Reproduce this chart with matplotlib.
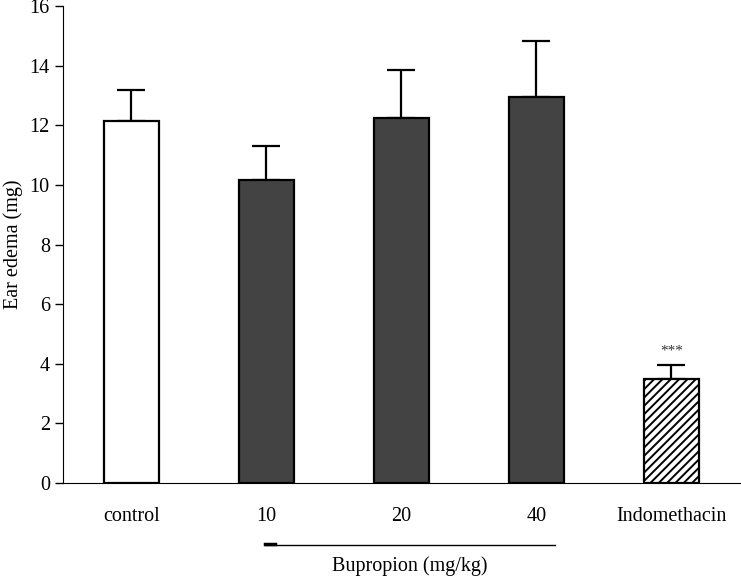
import numpy as np
import matplotlib.pyplot as plt

plt.rcParams['font.family'] = ['Liberation Serif', 'DejaVu Serif']
plt.rcParams['hatch.color'] = '#8a8a8a'
plt.rcParams['hatch.linewidth'] = 1.4

groups = ['control', '10', '20', '40', 'Indomethacin']
means = [12.15, 10.18, 12.25, 12.95, 3.48]
sem = [1.04, 1.13, 1.61, 1.88, 0.47]
colors = ['white', '#434343', '#434343', '#434343', 'white']
hatches = ['', '', '', '', '////']

fig = plt.figure(figsize=(7.41, 5.78), dpi=100)
ax = fig.add_axes([63/741, 95/578, 1 - 63/741, 477/578])

x = np.arange(len(groups))
ax.bar(x, means, width=0.41, color=colors, edgecolor='black', linewidth=1.6,
       hatch=hatches, zorder=2)
# error bars only upward
ax.errorbar(x, means, yerr=[np.zeros(len(sem)), sem], fmt='none', ecolor='black',
            elinewidth=1.6, capsize=10, capthick=1.6, zorder=1)

ax.text(x[4], means[4] + sem[4] + 0.25, '***', ha='center', va='bottom', fontsize=11,
        color='#333333')

ax.set_xlim(-0.507, 4.515)
ax.set_ylim(0, 16)
ax.set_yticks(np.arange(0, 17, 2))
ax.set_xticks(x)
ax.set_xticklabels(groups)
ax.tick_params(axis='x', length=0, pad=17, labelsize=14.5)
ax.tick_params(axis='y', direction='out', length=6, width=1, labelsize=14.5)
ax.spines['top'].set_visible(False)
ax.spines['right'].set_visible(False)
ax.set_ylabel('Ear edema (mg)', fontsize=14.5, labelpad=5)

# bracket line under the bupropion doses
fig.add_artist(plt.Line2D([265/741, 555/741], [1 - 545/578, 1 - 545/578],
                          color='black', linewidth=1))
fig.add_artist(plt.Line2D([265/741, 275/741], [1 - 544/578, 1 - 544/578],
                          color='black', linewidth=2.5))
fig.text(410/741, 1 - 566/578, 'Bupropion (mg/kg)', ha='center', va='center', fontsize=14.5)

fig.savefig('out.png', dpi=100)
